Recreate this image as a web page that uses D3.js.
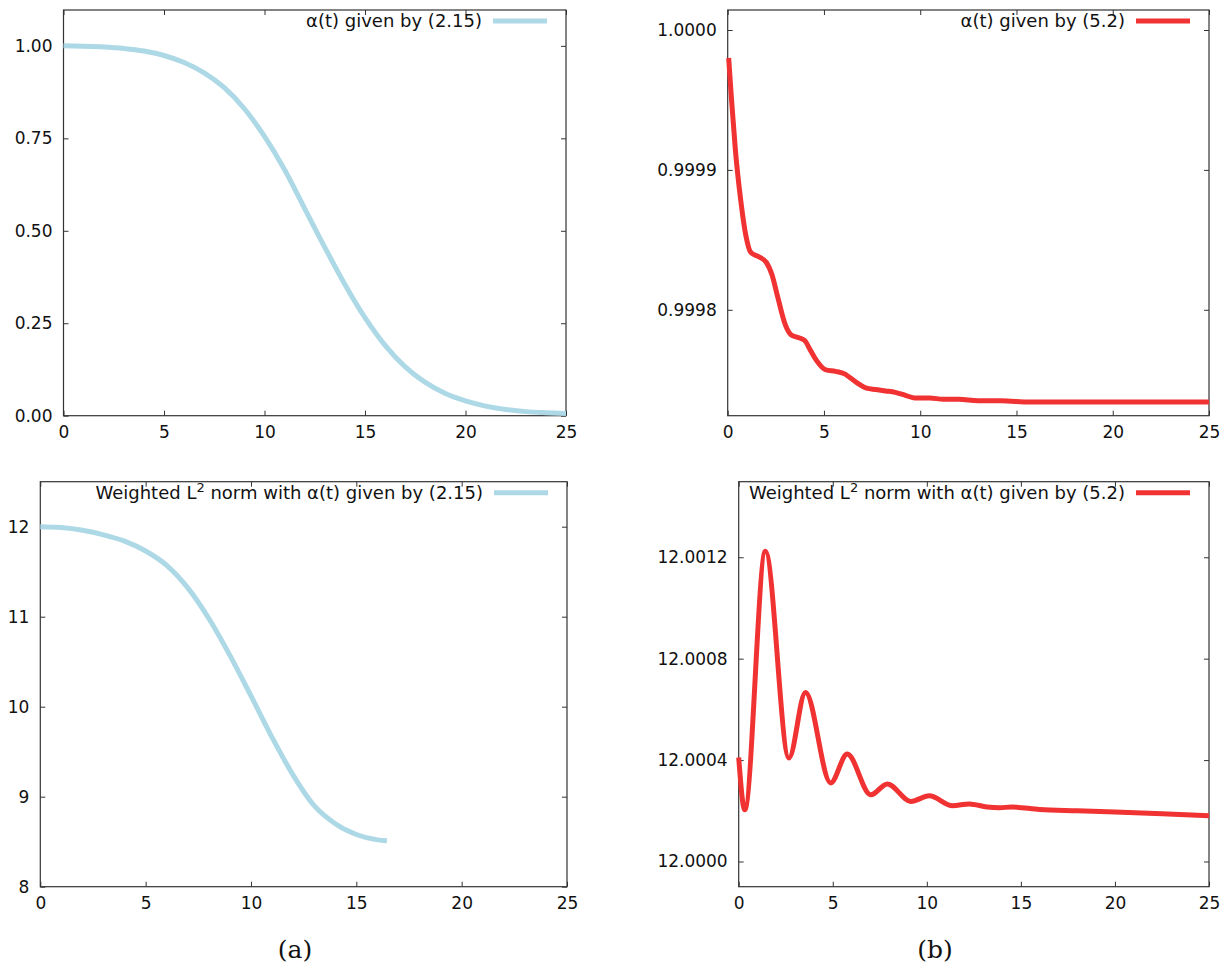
<!DOCTYPE html>
<html>
<head>
<meta charset="utf-8">
<script src="https://cdn.jsdelivr.net/npm/d3@7"></script>
<style>
body { margin: 0; background: #fff; }
text { font-family: "DejaVu Sans", sans-serif; }
</style>
</head>
<body>
<svg id="chart" width="1224" height="964"></svg>
<script>
// values
const xTicks = [0, 5, 10, 15, 20, 25];

// (a) top: alpha(t) from (2.15)
const timeAlphaA = [0,1,2,3,4,5,6,7,8,9,10,11,12,13,14,15,16,17,18,19,20,21,22,23,24,25];
const alphaA = [1.000,0.999,0.997,0.993,0.986,0.974,0.955,0.927,0.887,0.830,0.755,0.665,0.560,0.455,0.355,0.265,0.190,0.132,0.090,0.060,0.040,0.026,0.017,0.011,0.008,0.006];
const alphaATicks = [0, 0.25, 0.5, 0.75, 1];

// (b) top: alpha(t) from (5.2)
const timeAlphaB = [0.05,0.2,0.4,0.67,0.93,1.2,1.6,2.0,2.3,2.6,3.0,3.3,3.7,4.0,4.3,4.6,5.1,5.6,6.1,6.4,6.8,7.2,7.7,8.2,8.7,9.2,9.7,10.5,11.2,12,13,14.2,15.7,18,21,25];
const alphaB = [0.99998,0.99995,0.999914,0.999879,0.999854,0.999841,0.999838,0.999834,0.999825,0.999809,0.999789,0.999782,0.999780,0.999778,0.999771,0.999764,0.999757,0.999756,0.999754,0.999751,0.999747,0.999744,0.999743,0.999742,0.999741,0.999739,0.999737,0.999737,0.999736,0.999736,0.999735,0.999735,0.999734,0.999734,0.999734,0.999734];
const alphaBTicks = [0.9998, 0.9999, 1.0];

// (a) bottom: weighted L2 norm, (2.15)
const timeNormA = [0,1,2,3,4,5,6,7,8,9,10,11,12,13,14,15,16,16.45];
const normA = [12.00,11.99,11.96,11.91,11.84,11.73,11.57,11.32,10.98,10.57,10.12,9.66,9.24,8.90,8.70,8.58,8.52,8.51];
const normATicks = [8, 9, 10, 11, 12];

// (b) bottom: weighted L2 norm, (5.2) - turning points and tail
const timeNormB = [0,0.32,1.42,2.67,3.55,4.89,5.77,7.02,7.9,9.15,10.13,11.37,12.26,13.2,13.86,14.5,16,18,20,22.5,25];
const normB = [12.00041,12.000204,12.001224,12.000408,12.000667,12.00031,12.000424,12.000263,12.000306,12.000237,12.000259,12.00022,12.000227,12.000215,12.000212,12.000215,12.000205,12.0002,12.000195,12.000188,12.00018];
const normBTicks = [12.0, 12.0004, 12.0008, 12.0012];

const captions = ["(a)", "(b)"];

const blue = "#add8e6";
const red = "#f03232";

const svg = d3.select("#chart");

const panels = [
    {left: 63.5, right: 566, top: 10, bottom: 415.7, yDomain: [0, 1.097], yTicks: alphaATicks,
     fmt: d3.format(".2f"), t: timeAlphaA, v: alphaA, color: blue,
     label: ["", "", "α(t) given by (2.15)"]},
    {left: 727.7, right: 1209, top: 10, bottom: 415.7, yDomain: [0.99972429, 1.0000143], yTicks: alphaBTicks,
     fmt: d3.format(".4f"), t: timeAlphaB, v: alphaB, color: red,
     label: ["", "", "α(t) given by (5.2)"]},
    {left: 40.3, right: 567, top: 481.7, bottom: 886.7, yDomain: [8, 12.5], yTicks: normATicks,
     fmt: d3.format("d"), t: timeNormA, v: normA, color: blue,
     label: ["Weighted L", "2", " norm with α(t) given by (2.15)"]},
    {left: 738.7, right: 1209, top: 481.7, bottom: 886.7, yDomain: [11.9999006, 12.001498], yTicks: normBTicks,
     fmt: d3.format(".4f"), t: timeNormB, v: normB, color: red,
     label: ["Weighted L", "2", " norm with α(t) given by (5.2)"]}
];

function drawPanel(p) {
    let g = svg.append("g");
    let x = d3.scaleLinear().domain([0, 25]).range([p.left, p.right]);
    let y = d3.scaleLinear().domain(p.yDomain).range([p.bottom, p.top]);

    let axes = [
        {a: d3.axisBottom(x).tickValues(xTicks).tickPadding(10), at: `translate(0,${p.bottom})`},
        {a: d3.axisTop(x).tickValues(xTicks).tickFormat(""), at: `translate(0,${p.top})`},
        {a: d3.axisLeft(y).tickValues(p.yTicks).tickFormat(p.fmt).tickPadding(11), at: `translate(${p.left},0)`},
        {a: d3.axisRight(y).tickValues(p.yTicks).tickFormat(""), at: `translate(${p.right},0)`}
    ];
    axes.forEach(function(d) {
        let ax = g.append("g")
            .attr("transform", d.at)
            .call(d.a.tickSizeInner(-5).tickSizeOuter(0));
        ax.select(".domain").remove();
        ax.selectAll("line").attr("stroke", "#333");
        ax.selectAll("text")
            .style("font-family", "DejaVu Sans")
            .style("font-size", "17px")
            .attr("fill", "#111");
    });

    g.append("rect")
        .attr("x", p.left)
        .attr("y", p.top)
        .attr("width", p.right - p.left)
        .attr("height", p.bottom - p.top)
        .attr("fill", "none")
        .attr("stroke", "#333")
        .attr("stroke-width", 1.2);

    let line = d3.line()
        .x(function(d) { return x(d[0]); })
        .y(function(d) { return y(d[1]); })
        .curve(d3.curveMonotoneX);

    g.append("path")
        .datum(d3.zip(p.t, p.v))
        .attr("d", line)
        .attr("fill", "none")
        .attr("stroke", p.color)
        .attr("stroke-width", 5)
        .attr("stroke-linejoin", "round");

    // legend
    let ly = p.top + 11;
    g.append("line")
        .attr("x1", p.right - 73)
        .attr("x2", p.right - 19)
        .attr("y1", ly)
        .attr("y2", ly)
        .attr("stroke", p.color)
        .attr("stroke-width", 5);

    let lt = g.append("text")
        .attr("x", p.right - 84)
        .attr("y", ly + 6)
        .style("text-anchor", "end")
        .style("font-size", "18px")
        .style("white-space", "pre")
        .attr("fill", "#111");
    if (p.label[0] != "") {
        lt.append("tspan").text(p.label[0]);
        lt.append("tspan").attr("dy", -7).style("font-size", "13px").text(p.label[1]);
        lt.append("tspan").attr("dy", 7).text(p.label[2]);
    } else {
        lt.text(p.label[2]);
    }
}

panels.forEach(drawPanel);

svg.selectAll(".caption")
    .data(captions)
    .enter()
    .append("text")
    .attr("class", "caption")
    .attr("x", function(d, i) { return i == 0 ? 295 : 935; })
    .attr("y", 958)
    .style("text-anchor", "middle")
    .style("font-family", "DejaVu Serif")
    .style("font-size", "25px")
    .attr("fill", "#111")
    .text(function(d) { return d; });
</script>
</body>
</html>
